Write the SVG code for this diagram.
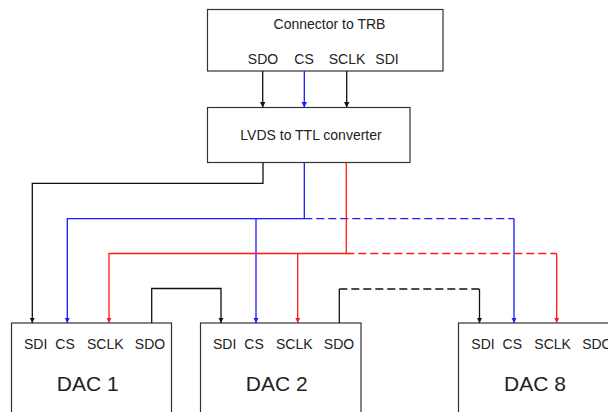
<svg xmlns="http://www.w3.org/2000/svg" width="608" height="412" viewBox="0 0 608 412">
<defs>
<style>
.box{fill:#fff;stroke:#333;stroke-width:1.2}
.t{font-family:"Liberation Sans",Arial,sans-serif;fill:#222;text-anchor:middle}
.s14{font-size:14px}
.s21{font-size:21px}
.w{fill:none;stroke-width:1.3}
.k{stroke:#111}
.b{stroke:#1a1aff}
.r{stroke:#ff1a1a}
.d{stroke-dasharray:8 4}
</style>
<marker id="ak" markerUnits="userSpaceOnUse" markerWidth="6" markerHeight="6" viewBox="0 0 6 6" refX="5.5" refY="3" orient="auto"><path d="M0,0.3 L5.5,3 L0,5.7 Z" fill="#111"/></marker>
<marker id="ab" markerUnits="userSpaceOnUse" markerWidth="6" markerHeight="6" viewBox="0 0 6 6" refX="5.5" refY="3" orient="auto"><path d="M0,0.3 L5.5,3 L0,5.7 Z" fill="#1a1aff"/></marker>
<marker id="ar" markerUnits="userSpaceOnUse" markerWidth="6" markerHeight="6" viewBox="0 0 6 6" refX="5.5" refY="3" orient="auto"><path d="M0,0.3 L5.5,3 L0,5.7 Z" fill="#ff1a1a"/></marker>
</defs>
<rect width="608" height="412" fill="#fff"/>
<g id="connector">
<rect class="box" x="207.5" y="9.5" width="235.5" height="61.5"/>
<text class="t s14" x="329.5" y="29">Connector to TRB</text>
<text class="t s14" x="263" y="64">SDO</text>
<text class="t s14" x="304" y="64">CS</text>
<text class="t s14" x="347" y="64">SCLK</text>
<text class="t s14" x="387" y="64">SDI</text>
</g>
<g id="lvds">
<rect class="box" x="207.5" y="107.5" width="202.5" height="55"/>
<text class="t s14" x="311" y="140">LVDS to TTL converter</text>
</g>
<g id="dac1">
<rect class="box" x="11.5" y="323" width="160" height="100"/>
<text class="t s14" x="35.7" y="348.5">SDI</text>
<text class="t s14" x="65" y="348.5">CS</text>
<text class="t s14" x="105.3" y="348.5">SCLK</text>
<text class="t s14" x="150" y="348.5">SDO</text>
<text class="t s21" x="87.7" y="390.5">DAC 1</text>
</g>
<g id="dac2">
<rect class="box" x="200.5" y="323" width="160.5" height="100"/>
<text class="t s14" x="224.7" y="348.5">SDI</text>
<text class="t s14" x="254" y="348.5">CS</text>
<text class="t s14" x="294.3" y="348.5">SCLK</text>
<text class="t s14" x="339" y="348.5">SDO</text>
<text class="t s21" x="276.7" y="390.5">DAC 2</text>
</g>
<g id="dac8">
<rect class="box" x="458.5" y="323" width="170" height="100"/>
<text class="t s14" x="483" y="348.5">SDI</text>
<text class="t s14" x="512.3" y="348.5">CS</text>
<text class="t s14" x="552.6" y="348.5">SCLK</text>
<text class="t s14" x="597.3" y="348.5">SDO</text>
<text class="t s21" x="535" y="390.5">DAC 8</text>
</g>
<g id="connectors">
<path class="w k" d="M262.7 71 V107.5" marker-end="url(#ak)"/>
<path class="w b" d="M304.3 71 V107.5" marker-end="url(#ab)"/>
<path class="w k" d="M346.7 71 V107.5" marker-end="url(#ak)"/>
<path class="w k" d="M263 162.7 V183.3 H32.3 V323" marker-end="url(#ak)"/>
<path class="w b" d="M304.3 162.7 V218.7 H67.3 V323" marker-end="url(#ab)"/>
<path class="w b" d="M256 218.7 V323" marker-end="url(#ab)"/>
<path class="w b d" d="M304.3 218.7 H514"/>
<path class="w b" d="M514 218.7 V323" marker-end="url(#ab)"/>
<path class="w r" d="M346.3 162.7 V253.5 H109 V323" marker-end="url(#ar)"/>
<path class="w r" d="M297.7 253.5 V323" marker-end="url(#ar)"/>
<path class="w r d" d="M346.3 253.5 H556.7"/>
<path class="w r" d="M556.7 253.5 V323" marker-end="url(#ar)"/>
<path class="w k" d="M151.7 323 V288.5 H221 V323" marker-end="url(#ak)"/>
<path class="w k" d="M339.3 323 V289"/>
<path class="w k d" d="M339.3 289 H479.5"/>
<path class="w k" d="M479.5 289 V323" marker-end="url(#ak)"/>
</g>
</svg>
